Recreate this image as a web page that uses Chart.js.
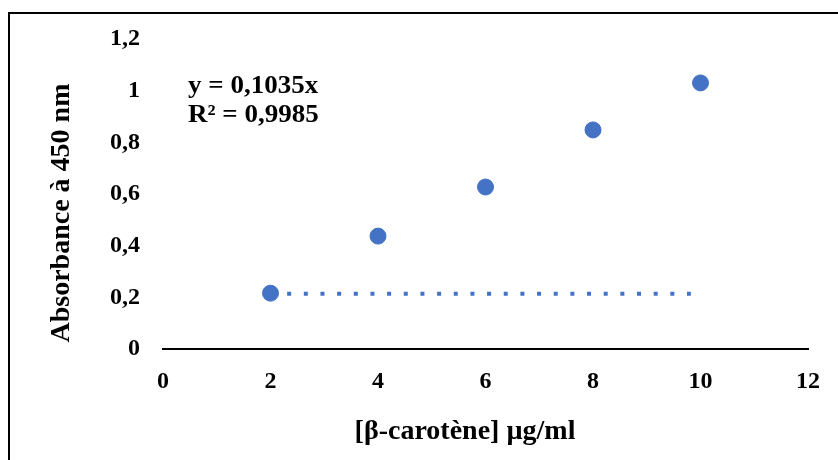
<!DOCTYPE html>
<html>
<head>
<meta charset="utf-8">
<script src="https://cdn.jsdelivr.net/npm/chart.js@4.4.1/dist/chart.umd.min.js"></script>
<style>
  html, body { margin: 0; padding: 0; background: #fff; overflow: hidden; }
  #wrap { position: relative; width: 838px; height: 460px; }
  #frame { position: absolute; left: 8px; top: 12px; width: 900px; height: 500px; border: 2px solid #000; box-sizing: border-box; pointer-events: none; }
  canvas { position: absolute; left: 0; top: 0; }
</style>
</head>
<body>
<div id="wrap">
  <canvas id="chart" width="838" height="460"></canvas>
  <div id="frame"></div>
</div>
<script>
const concentrations = [2, 4, 6, 8, 10];
const absorbances = [0.216, 0.437, 0.627, 0.848, 1.03];
const trendX = [2, 9.82];
const trendY = [0.214, 0.214];

const xTitle = "[β-carotène] µg/ml";
const yTitle = "Absorbance à 450 nm";
const equation = ["y = 0,1035x", "R² = 0,9985"];

const FONT = "'Liberation Serif', 'Times New Roman', serif";
const BLUE = "#4472C4";

function comma(v) {
  return String(Math.round(v * 10) / 10).replace(".", ",");
}

const textPlugin = {
  id: "texts",
  afterDraw(chart) {
    const ctx = chart.ctx;
    ctx.save();
    ctx.fillStyle = "#000";

    // trendline label, slightly wider than plain Times
    ctx.save();
    ctx.font = `bold 25px ${FONT}`;
    ctx.textBaseline = "alphabetic";
    ctx.textAlign = "left";
    ctx.translate(188, 0);
    ctx.scale(1.08, 1);
    ctx.fillText(equation[0], 0, 93);
    ctx.fillText(equation[1], 0, 122);
    ctx.restore();

    ctx.font = `bold 28px ${FONT}`;
    ctx.textBaseline = "middle";
    ctx.textAlign = "center";
    ctx.fillText(xTitle, 465, 432);

    ctx.translate(62, 213);
    ctx.rotate(-Math.PI / 2);
    ctx.fillText(yTitle, 0, 0);
    ctx.restore();
  }
};

new Chart(document.getElementById("chart"), {
  type: "scatter",
  data: {
    datasets: [
      {
        data: concentrations.map((x, i) => ({ x, y: absorbances[i] })),
        backgroundColor: BLUE,
        borderColor: BLUE,
        pointRadius: 8,
        pointHoverRadius: 8,
        order: 0
      },
      {
        type: "line",
        data: trendX.map((x, i) => ({ x, y: trendY[i] })),
        borderColor: BLUE,
        borderWidth: 4,
        borderDash: [4, 12.66],
        pointRadius: 0,
        fill: false,
        order: 1
      }
    ]
  },
  options: {
    responsive: false,
    animation: false,
    layout: { padding: { top: 39, right: 28, left: 0, bottom: 0 } },
    plugins: { legend: { display: false }, tooltip: { enabled: false } },
    scales: {
      x: {
        type: "linear",
        min: 0,
        max: 12,
        afterFit: s => { s.height = 111; },
        grid: { display: false, drawTicks: false },
        border: { display: true, color: "#000", width: 2 },
        ticks: {
          stepSize: 2,
          padding: 18,
          color: "#000",
          font: { family: FONT, size: 24, weight: "bold" },
          callback: v => comma(v)
        }
      },
      y: {
        min: 0,
        max: 1.2,
        afterFit: s => { s.width = 163; },
        grid: { display: false, drawTicks: false },
        border: { display: false },
        ticks: {
          stepSize: 0.2,
          padding: 23,
          color: "#000",
          font: { family: FONT, size: 24, weight: "bold" },
          callback: v => comma(v)
        }
      }
    }
  },
  plugins: [textPlugin]
});
</script>
</body>
</html>
